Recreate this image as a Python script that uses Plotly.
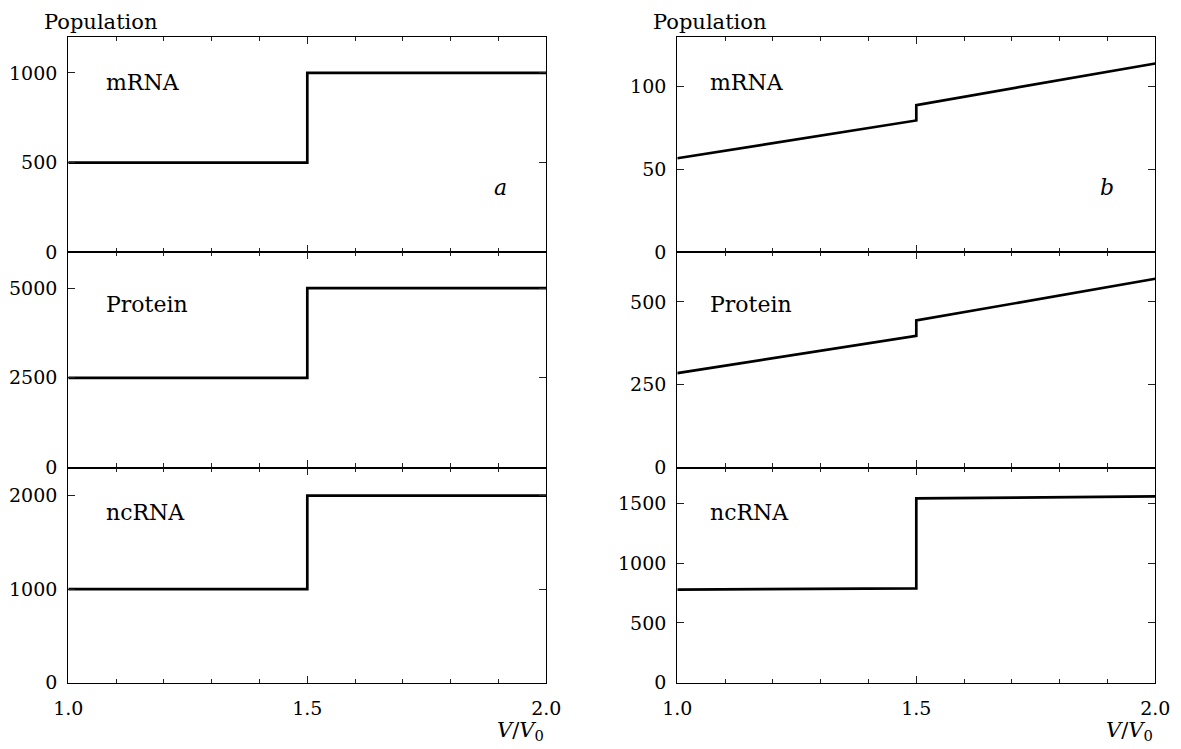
import plotly.graph_objects as go

# ---- data ----
x_a = [1.0, 1.5, 1.5, 2.0]
mrna_a = [500, 500, 1000, 1000]
protein_a = [2500, 2500, 5000, 5000]
ncrna_a = [1000, 1000, 2000, 2000]

x_b = [1.0, 1.5, 1.5, 2.0]
mrna_b = [56.8, 79.6, 88.9, 114.0]
protein_b = [285, 398, 444, 570]
ncrna_b = [778, 789, 1542, 1558]

species = ["mRNA", "Protein", "ncRNA"]
yranges_a = [[0, 1200], [0, 6000], [0, 2300]]
yticks_a = [[0, 500, 1000], [0, 2500, 5000], [0, 1000, 2000]]
yranges_b = [[0, 130], [0, 650], [0, 1800]]
yticks_b = [[0, 50, 100], [0, 250, 500], [0, 500, 1000, 1500]]
xticks = [1.0, 1.5, 2.0]
xticklabels = ["1.0", "1.5", "2.0"]

OFF = 8  # page body margin
W, H = 1181 - OFF, 749 - OFF
FONT = "DejaVu Serif"
TICK_SIZE = 19
LABEL_SIZE = 22

def px_x(p):
    return (p - OFF) / W

def px_y(p):
    return (H - (p - OFF)) / H

col_dom = [[px_x(68.3), px_x(546.3)], [px_x(677.3), px_x(1155.3)]]
row_px = [(37.0, 252.3), (252.3, 467.5), (467.5, 682.7)]
row_dom = [[px_y(b), px_y(t)] for (t, b) in row_px]

fig = go.Figure()

series_a = [mrna_a, protein_a, ncrna_a]
series_b = [mrna_b, protein_b, ncrna_b]

layout = dict(
    width=W, height=H,
    margin=dict(l=0, r=0, t=0, b=0),
    paper_bgcolor="white", plot_bgcolor="white",
    showlegend=False,
    font=dict(family=FONT, size=TICK_SIZE, color="black"),
)

annotations = []
idx = 0
for c, (xs, series, yr, yt) in enumerate([(x_a, series_a, yranges_a, yticks_a),
                                          (x_b, series_b, yranges_b, yticks_b)]):
    for r in range(3):
        idx += 1
        sfx = "" if idx == 1 else str(idx)
        fig.add_trace(go.Scatter(
            x=xs, y=series[r], mode="lines",
            line=dict(color="black", width=2.7),
            xaxis="x" + sfx, yaxis="y" + sfx, hoverinfo="skip"))
        layout["xaxis" + sfx] = dict(
            domain=col_dom[c], range=[1.0, 2.0], anchor="y" + sfx,
            showline=True, linecolor="black", linewidth=1.3, mirror="ticks",
            ticks="inside", ticklen=7, tickwidth=1, tickcolor="#222",
            tickvals=xticks, ticktext=xticklabels,
            showticklabels=(r == 2), ticklabelstandoff=8,
            minor=dict(dtick=0.1, tick0=1.0, ticks="inside", ticklen=4,
                       tickwidth=1, tickcolor="#222"),
            showgrid=False, zeroline=False, automargin=False,
            tickfont=dict(family=FONT, size=TICK_SIZE, color="black"),
            fixedrange=True,
        )
        layout["yaxis" + sfx] = dict(
            domain=row_dom[r], range=yr[r], anchor="x" + sfx,
            showline=True, linecolor="black", linewidth=1.3, mirror="ticks",
            ticks="inside", ticklen=7, tickwidth=1, tickcolor="#222",
            tickvals=yt[r], ticktext=[str(v) for v in yt[r]],
            ticklabelstandoff=6,
            showgrid=False, zeroline=False, automargin=False,
            tickfont=dict(family=FONT, size=TICK_SIZE, color="black"),
            fixedrange=True,
        )
        ylab = 0.756 if r == 1 else 0.79
        annotations.append(dict(
            text=species[r], xref="x" + sfx + " domain", yref="y" + sfx + " domain",
            x=(36 if c == 0 else 31) / 478, y=ylab, xanchor="left", yanchor="middle",
            showarrow=False, font=dict(family=FONT, size=LABEL_SIZE, color="black")))
    top_sfx = "" if c == 0 else "4"
    annotations.append(dict(
        text="<i>a</i>" if c == 0 else "<i>b</i>",
        xref="x" + top_sfx + " domain", yref="y" + top_sfx + " domain",
        x=0.905 if c == 0 else 0.898, y=0.30, xanchor="center", yanchor="middle",
        showarrow=False, font=dict(family=FONT, size=LABEL_SIZE, color="black")))
    annotations.append(dict(
        text="Population", xref="paper", yref="paper",
        x=px_x((68.3 if c == 0 else 677.3) - 26), y=1.0,
        xanchor="left", yanchor="top", showarrow=False,
        font=dict(family=FONT, size=21, color="black")))
    annotations.append(dict(
        text="<i>V</i>/<i>V</i><sub>0</sub>", xref="paper", yref="paper",
        x=col_dom[c][1], y=px_y(731), xanchor="right", yanchor="middle",
        showarrow=False, font=dict(family=FONT, size=21, color="black")))

layout["annotations"] = annotations
fig.update_layout(**layout)
fig.write_html("out.html")
